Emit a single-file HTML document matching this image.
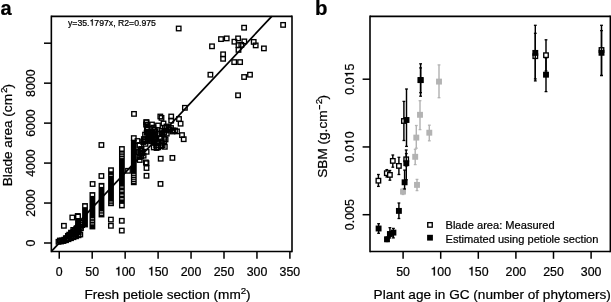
<!DOCTYPE html>
<html><head><meta charset="utf-8"><style>
html,body{margin:0;padding:0;background:#fff;}
svg{display:block;will-change:transform;}
text,.g1{stroke:#000;stroke-width:0.22px;stroke-linejoin:round;}
</style></head><body>
<svg width="611" height="302" viewBox="0 0 611 302">
<rect width="611" height="302" fill="#fff"/>
<text x="0.4" y="15.1" font-family="Liberation Sans, sans-serif" font-size="20" font-weight="bold">a</text>
<text x="315.1" y="15.0" font-family="Liberation Sans, sans-serif" font-size="20.4" font-weight="bold">b</text>
<g transform="translate(68.00,25.50)"><text x="0.00" y="0" font-family="Liberation Sans, sans-serif" font-size="8.7" >y=35. 797x, R2=0.975</text><path class="g1" transform="translate(21.52,0) scale(0.00870,-0.00870)" d="M266 0L366 0L366 709L292 709C275 632 231 589 108 574L108 502L266 502Z" style="stroke-width:25.3px"/></g>
<g fill="none" stroke="#000" stroke-width="1.35">
<rect x="176.45" y="26.25" width="4.50" height="4.50"/>
<rect x="241.85" y="25.45" width="4.50" height="4.50"/>
<rect x="280.85" y="22.65" width="4.50" height="4.50"/>
<rect x="218.75" y="36.85" width="4.50" height="4.50"/>
<rect x="224.45" y="36.15" width="4.50" height="4.50"/>
<rect x="235.85" y="36.15" width="4.50" height="4.50"/>
<rect x="232.15" y="39.45" width="4.50" height="4.50"/>
<rect x="242.05" y="39.15" width="4.50" height="4.50"/>
<rect x="236.25" y="42.85" width="4.50" height="4.50"/>
<rect x="239.05" y="42.65" width="4.50" height="4.50"/>
<rect x="236.25" y="47.65" width="4.50" height="4.50"/>
<rect x="251.45" y="39.65" width="4.50" height="4.50"/>
<rect x="253.45" y="43.15" width="4.50" height="4.50"/>
<rect x="261.65" y="46.15" width="4.50" height="4.50"/>
<rect x="209.75" y="44.05" width="4.50" height="4.50"/>
<rect x="220.85" y="52.05" width="4.50" height="4.50"/>
<rect x="220.85" y="56.55" width="4.50" height="4.50"/>
<rect x="231.95" y="59.85" width="4.50" height="4.50"/>
<rect x="237.85" y="59.85" width="4.50" height="4.50"/>
<rect x="208.15" y="72.45" width="4.50" height="4.50"/>
<rect x="241.85" y="74.75" width="4.50" height="4.50"/>
<rect x="247.75" y="72.45" width="4.50" height="4.50"/>
<rect x="235.80" y="93.05" width="4.50" height="4.50"/>
<rect x="182.65" y="105.55" width="4.50" height="4.50"/>
<rect x="131.75" y="111.65" width="4.50" height="4.50"/>
<rect x="158.05" y="114.25" width="4.50" height="4.50"/>
<rect x="159.25" y="115.65" width="4.50" height="4.50"/>
<rect x="168.95" y="114.25" width="4.50" height="4.50"/>
<rect x="168.95" y="118.35" width="4.50" height="4.50"/>
<rect x="176.75" y="116.75" width="4.50" height="4.50"/>
<rect x="178.35" y="121.45" width="4.50" height="4.50"/>
<rect x="144.35" y="120.05" width="4.50" height="4.50"/>
<rect x="174.75" y="129.15" width="4.50" height="4.50"/>
<rect x="179.75" y="132.85" width="4.50" height="4.50"/>
<rect x="181.45" y="136.95" width="4.50" height="4.50"/>
<rect x="162.55" y="144.55" width="4.50" height="4.50"/>
<rect x="158.45" y="156.45" width="4.50" height="4.50"/>
<rect x="170.15" y="155.65" width="4.50" height="4.50"/>
<rect x="144.25" y="160.95" width="4.50" height="4.50"/>
<rect x="144.25" y="165.75" width="4.50" height="4.50"/>
<rect x="144.25" y="173.55" width="4.50" height="4.50"/>
<rect x="158.25" y="181.65" width="4.50" height="4.50"/>
<rect x="137.45" y="157.75" width="4.50" height="4.50"/>
<rect x="125.75" y="168.55" width="4.50" height="4.50"/>
<rect x="131.55" y="135.85" width="4.50" height="4.50"/>
<rect x="99.15" y="142.75" width="4.50" height="4.50"/>
<rect x="99.15" y="173.75" width="4.50" height="4.50"/>
<rect x="90.35" y="181.75" width="4.50" height="4.50"/>
<rect x="61.65" y="223.55" width="4.50" height="4.50"/>
<rect x="70.05" y="215.25" width="4.50" height="4.50"/>
<rect x="75.45" y="213.75" width="4.50" height="4.50"/>
<rect x="108.65" y="217.35" width="4.50" height="4.50"/>
<rect x="108.65" y="223.55" width="4.50" height="4.50"/>
<rect x="119.55" y="218.55" width="4.50" height="4.50"/>
<rect x="119.55" y="228.35" width="4.50" height="4.50"/>
<rect x="143.65" y="160.15" width="4.50" height="4.50"/>
<rect x="56.25" y="239.55" width="4.50" height="4.50"/>
<rect x="58.75" y="239.25" width="4.50" height="4.50"/>
<rect x="61.25" y="238.75" width="4.50" height="4.50"/>
<rect x="63.75" y="237.95" width="4.50" height="4.50"/>
<rect x="66.25" y="236.95" width="4.50" height="4.50"/>
<rect x="68.75" y="235.95" width="4.50" height="4.50"/>
<rect x="71.25" y="234.95" width="4.50" height="4.50"/>
<rect x="73.75" y="234.05" width="4.50" height="4.50"/>
<rect x="76.25" y="233.05" width="4.50" height="4.50"/>
<rect x="78.05" y="232.25" width="4.50" height="4.50"/>
<rect x="143.95" y="119.95" width="4.50" height="4.50"/>
<rect x="144.35" y="149.55" width="4.50" height="4.50"/>
<rect x="163.35" y="137.15" width="4.50" height="4.50"/>
<rect x="167.25" y="127.25" width="4.50" height="4.50"/>
<rect x="170.75" y="128.25" width="4.50" height="4.50"/>
<rect x="136.25" y="149.75" width="4.50" height="4.50"/>
<rect x="137.25" y="154.75" width="4.50" height="4.50"/>
<rect x="149.75" y="122.25" width="4.50" height="4.50"/>
<rect x="155.75" y="123.25" width="4.50" height="4.50"/>
<rect x="161.25" y="121.25" width="4.50" height="4.50"/>
<rect x="137.25" y="142.75" width="4.50" height="4.50"/>
<rect x="139.25" y="146.75" width="4.50" height="4.50"/>
<rect x="135.25" y="138.75" width="4.50" height="4.50"/>
<rect x="164.25" y="124.25" width="4.50" height="4.50"/>
<rect x="168.75" y="125.75" width="4.50" height="4.50"/>
<rect x="172.75" y="128.25" width="4.50" height="4.50"/>
<rect x="166.25" y="125.25" width="4.50" height="4.50"/>
<rect x="170.25" y="129.25" width="4.50" height="4.50"/>
<rect x="80.03" y="220.64" width="4.50" height="4.50"/>
<rect x="78.15" y="222.09" width="4.50" height="4.50"/>
<rect x="79.92" y="222.87" width="4.50" height="4.50"/>
<rect x="76.05" y="224.35" width="4.50" height="4.50"/>
<rect x="78.39" y="224.53" width="4.50" height="4.50"/>
<rect x="74.27" y="226.19" width="4.50" height="4.50"/>
<rect x="76.08" y="226.80" width="4.50" height="4.50"/>
<rect x="78.69" y="225.93" width="4.50" height="4.50"/>
<rect x="71.00" y="227.68" width="4.50" height="4.50"/>
<rect x="72.88" y="228.82" width="4.50" height="4.50"/>
<rect x="75.19" y="228.49" width="4.50" height="4.50"/>
<rect x="76.36" y="228.09" width="4.50" height="4.50"/>
<rect x="68.76" y="230.38" width="4.50" height="4.50"/>
<rect x="71.50" y="230.09" width="4.50" height="4.50"/>
<rect x="73.37" y="230.74" width="4.50" height="4.50"/>
<rect x="75.30" y="229.99" width="4.50" height="4.50"/>
<rect x="76.31" y="229.82" width="4.50" height="4.50"/>
<rect x="66.95" y="232.41" width="4.50" height="4.50"/>
<rect x="69.62" y="231.93" width="4.50" height="4.50"/>
<rect x="70.83" y="232.59" width="4.50" height="4.50"/>
<rect x="73.12" y="231.65" width="4.50" height="4.50"/>
<rect x="74.30" y="231.63" width="4.50" height="4.50"/>
<rect x="65.64" y="233.60" width="4.50" height="4.50"/>
<rect x="66.85" y="233.70" width="4.50" height="4.50"/>
<rect x="68.74" y="234.05" width="4.50" height="4.50"/>
<rect x="70.66" y="233.85" width="4.50" height="4.50"/>
<rect x="63.62" y="235.92" width="4.50" height="4.50"/>
<rect x="65.04" y="235.87" width="4.50" height="4.50"/>
<rect x="57.62" y="238.28" width="4.50" height="4.50"/>
<rect x="59.79" y="238.20" width="4.50" height="4.50"/>
<rect x="61.98" y="237.46" width="4.50" height="4.50"/>
<rect x="149.02" y="138.30" width="4.50" height="4.50"/>
<rect x="152.63" y="133.12" width="4.50" height="4.50"/>
<rect x="142.78" y="132.40" width="4.50" height="4.50"/>
<rect x="153.81" y="136.67" width="4.50" height="4.50"/>
<rect x="155.97" y="139.18" width="4.50" height="4.50"/>
<rect x="137.97" y="148.51" width="4.50" height="4.50"/>
<rect x="145.08" y="125.78" width="4.50" height="4.50"/>
<rect x="161.97" y="130.30" width="4.50" height="4.50"/>
<rect x="141.35" y="153.42" width="4.50" height="4.50"/>
<rect x="154.32" y="145.76" width="4.50" height="4.50"/>
<rect x="157.95" y="136.14" width="4.50" height="4.50"/>
<rect x="138.98" y="154.09" width="4.50" height="4.50"/>
<rect x="139.33" y="151.22" width="4.50" height="4.50"/>
<rect x="138.80" y="151.45" width="4.50" height="4.50"/>
<rect x="150.73" y="133.12" width="4.50" height="4.50"/>
<rect x="145.00" y="125.77" width="4.50" height="4.50"/>
<rect x="152.98" y="129.60" width="4.50" height="4.50"/>
<rect x="146.36" y="131.93" width="4.50" height="4.50"/>
<rect x="160.14" y="131.40" width="4.50" height="4.50"/>
<rect x="152.15" y="127.48" width="4.50" height="4.50"/>
<rect x="159.33" y="140.54" width="4.50" height="4.50"/>
<rect x="142.59" y="137.87" width="4.50" height="4.50"/>
<rect x="161.97" y="136.38" width="4.50" height="4.50"/>
<rect x="148.86" y="138.98" width="4.50" height="4.50"/>
<rect x="158.52" y="143.51" width="4.50" height="4.50"/>
<rect x="149.21" y="133.41" width="4.50" height="4.50"/>
<rect x="138.93" y="147.18" width="4.50" height="4.50"/>
<rect x="144.62" y="126.96" width="4.50" height="4.50"/>
<rect x="139.35" y="150.69" width="4.50" height="4.50"/>
<rect x="145.43" y="129.73" width="4.50" height="4.50"/>
<rect x="145.78" y="137.33" width="4.50" height="4.50"/>
<rect x="141.60" y="136.85" width="4.50" height="4.50"/>
<rect x="146.28" y="133.73" width="4.50" height="4.50"/>
<rect x="151.37" y="138.85" width="4.50" height="4.50"/>
<rect x="142.94" y="138.92" width="4.50" height="4.50"/>
<rect x="146.12" y="129.40" width="4.50" height="4.50"/>
<rect x="154.79" y="139.77" width="4.50" height="4.50"/>
<rect x="148.75" y="132.66" width="4.50" height="4.50"/>
<rect x="159.05" y="143.76" width="4.50" height="4.50"/>
<rect x="138.10" y="150.49" width="4.50" height="4.50"/>
<rect x="141.04" y="139.58" width="4.50" height="4.50"/>
<rect x="143.83" y="122.34" width="4.50" height="4.50"/>
<rect x="139.98" y="150.50" width="4.50" height="4.50"/>
<rect x="153.95" y="143.22" width="4.50" height="4.50"/>
<rect x="156.04" y="145.07" width="4.50" height="4.50"/>
<rect x="152.24" y="139.98" width="4.50" height="4.50"/>
<rect x="159.44" y="130.08" width="4.50" height="4.50"/>
<rect x="159.21" y="128.43" width="4.50" height="4.50"/>
<rect x="151.96" y="134.64" width="4.50" height="4.50"/>
<rect x="151.50" y="145.18" width="4.50" height="4.50"/>
<rect x="160.37" y="142.84" width="4.50" height="4.50"/>
<rect x="159.64" y="131.90" width="4.50" height="4.50"/>
<rect x="157.56" y="131.43" width="4.50" height="4.50"/>
<rect x="152.66" y="137.51" width="4.50" height="4.50"/>
<rect x="151.11" y="125.40" width="4.50" height="4.50"/>
<rect x="164.27" y="128.22" width="4.50" height="4.50"/>
<rect x="150.59" y="130.65" width="4.50" height="4.50"/>
<rect x="143.24" y="141.60" width="4.50" height="4.50"/>
<rect x="141.12" y="139.59" width="4.50" height="4.50"/>
<rect x="162.01" y="139.06" width="4.50" height="4.50"/>
<rect x="150.63" y="131.82" width="4.50" height="4.50"/>
<rect x="162.59" y="125.45" width="4.50" height="4.50"/>
<rect x="164.52" y="131.39" width="4.50" height="4.50"/>
<rect x="148.21" y="135.00" width="4.50" height="4.50"/>
<rect x="147.86" y="136.23" width="4.50" height="4.50"/>
<rect x="145.22" y="122.94" width="4.50" height="4.50"/>
<rect x="139.88" y="150.46" width="4.50" height="4.50"/>
<rect x="144.43" y="130.55" width="4.50" height="4.50"/>
<rect x="152.49" y="127.89" width="4.50" height="4.50"/>
</g>
<rect x="75.08" y="213.57" width="5.85" height="21.35" fill="#000"/><rect x="76.42" y="215.00" width="3.15" height="3.00" fill="#fff"/><rect x="82.08" y="203.07" width="5.85" height="24.35" fill="#000"/><rect x="83.42" y="204.65" width="3.15" height="2.50" fill="#fff"/><rect x="89.48" y="192.07" width="5.85" height="37.35" fill="#000"/><rect x="90.83" y="193.70" width="3.15" height="2.20" fill="#fff"/><rect x="90.83" y="218.20" width="3.15" height="1.00" fill="#aaa"/><rect x="90.83" y="220.80" width="3.15" height="1.00" fill="#aaa"/><rect x="90.83" y="223.40" width="3.15" height="1.00" fill="#aaa"/><rect x="98.58" y="182.88" width="5.85" height="34.55" fill="#000"/><rect x="99.92" y="184.70" width="3.15" height="2.20" fill="#fff"/><rect x="99.92" y="211.30" width="3.15" height="1.00" fill="#aaa"/><rect x="99.92" y="213.55" width="3.15" height="1.50" fill="#aaa"/><rect x="108.08" y="167.27" width="5.85" height="38.95" fill="#000"/><rect x="109.42" y="168.75" width="3.15" height="2.50" fill="#fff"/><rect x="109.42" y="174.90" width="3.15" height="1.00" fill="#aaa"/><rect x="109.42" y="201.50" width="3.15" height="1.00" fill="#aaa"/><rect x="109.42" y="203.80" width="3.15" height="1.00" fill="#aaa"/><rect x="118.98" y="146.07" width="5.85" height="62.35" fill="#000"/><rect x="120.33" y="147.50" width="3.15" height="3.00" fill="#fff"/><rect x="120.33" y="152.50" width="3.15" height="1.00" fill="#aaa"/><rect x="120.33" y="154.80" width="3.15" height="1.00" fill="#aaa"/><rect x="120.33" y="157.10" width="3.15" height="1.00" fill="#aaa"/><rect x="120.33" y="186.50" width="3.15" height="1.20" fill="#aaa"/><rect x="120.33" y="190.15" width="3.15" height="1.50" fill="#aaa"/><rect x="120.33" y="194.45" width="3.15" height="1.50" fill="#aaa"/><rect x="120.33" y="198.05" width="3.15" height="1.50" fill="#aaa"/><rect x="120.33" y="203.90" width="3.15" height="3.00" fill="#fff"/><rect x="130.88" y="140.07" width="5.85" height="45.15" fill="#000"/><rect x="132.23" y="173.90" width="3.15" height="1.00" fill="#aaa"/><rect x="132.23" y="175.90" width="3.15" height="1.00" fill="#aaa"/><rect x="132.23" y="178.20" width="3.15" height="1.00" fill="#aaa"/><rect x="132.23" y="180.00" width="3.15" height="1.00" fill="#aaa"/><rect x="132.23" y="182.00" width="3.15" height="1.00" fill="#aaa"/>
<line x1="51.35" y1="251.43" x2="271.75" y2="16.35" stroke="#000" stroke-width="1.7"/>
<line x1="403.0" y1="188.5" x2="403.0" y2="194.5" stroke="#b3b3b3" stroke-width="1.45"/>
<line x1="401.6" y1="188.5" x2="404.4" y2="188.5" stroke="#b3b3b3" stroke-width="1.3"/>
<line x1="401.6" y1="194.5" x2="404.4" y2="194.5" stroke="#b3b3b3" stroke-width="1.3"/>
<line x1="417.0" y1="179.4" x2="417.0" y2="190.6" stroke="#b3b3b3" stroke-width="1.45"/>
<line x1="415.6" y1="179.4" x2="418.4" y2="179.4" stroke="#b3b3b3" stroke-width="1.3"/>
<line x1="415.6" y1="190.6" x2="418.4" y2="190.6" stroke="#b3b3b3" stroke-width="1.3"/>
<line x1="415.2" y1="149.3" x2="415.2" y2="164.6" stroke="#b3b3b3" stroke-width="1.45"/>
<line x1="413.8" y1="149.3" x2="416.59999999999997" y2="149.3" stroke="#b3b3b3" stroke-width="1.3"/>
<line x1="413.8" y1="164.6" x2="416.59999999999997" y2="164.6" stroke="#b3b3b3" stroke-width="1.3"/>
<line x1="416.3" y1="125.5" x2="416.3" y2="148.2" stroke="#b3b3b3" stroke-width="1.45"/>
<line x1="414.90000000000003" y1="125.5" x2="417.7" y2="125.5" stroke="#b3b3b3" stroke-width="1.3"/>
<line x1="414.90000000000003" y1="148.2" x2="417.7" y2="148.2" stroke="#b3b3b3" stroke-width="1.3"/>
<line x1="429.3" y1="125.2" x2="429.3" y2="140.8" stroke="#b3b3b3" stroke-width="1.45"/>
<line x1="427.90000000000003" y1="125.2" x2="430.7" y2="125.2" stroke="#b3b3b3" stroke-width="1.3"/>
<line x1="427.90000000000003" y1="140.8" x2="430.7" y2="140.8" stroke="#b3b3b3" stroke-width="1.3"/>
<line x1="420.0" y1="100.7" x2="420.0" y2="129.6" stroke="#b3b3b3" stroke-width="1.45"/>
<line x1="418.6" y1="100.7" x2="421.4" y2="100.7" stroke="#b3b3b3" stroke-width="1.3"/>
<line x1="418.6" y1="129.6" x2="421.4" y2="129.6" stroke="#b3b3b3" stroke-width="1.3"/>
<line x1="439.0" y1="64.9" x2="439.0" y2="97.7" stroke="#b3b3b3" stroke-width="1.45"/>
<line x1="437.6" y1="64.9" x2="440.4" y2="64.9" stroke="#b3b3b3" stroke-width="1.3"/>
<line x1="437.6" y1="97.7" x2="440.4" y2="97.7" stroke="#b3b3b3" stroke-width="1.3"/>
<rect x="400.05" y="188.65" width="5.9" height="5.9" fill="#b3b3b3"/>
<rect x="414.05" y="181.95" width="5.9" height="5.9" fill="#b3b3b3"/>
<rect x="412.25" y="153.85" width="5.9" height="5.9" fill="#b3b3b3"/>
<rect x="413.35" y="134.65" width="5.9" height="5.9" fill="#b3b3b3"/>
<rect x="426.35" y="129.75" width="5.9" height="5.9" fill="#b3b3b3"/>
<rect x="417.05" y="111.85" width="5.9" height="5.9" fill="#b3b3b3"/>
<rect x="436.05" y="78.65" width="5.9" height="5.9" fill="#b3b3b3"/>
<line x1="378.4" y1="174.5" x2="378.4" y2="186.4" stroke="#000" stroke-width="1.45"/>
<line x1="377.0" y1="174.5" x2="379.79999999999995" y2="174.5" stroke="#000" stroke-width="1.3"/>
<line x1="377.0" y1="186.4" x2="379.79999999999995" y2="186.4" stroke="#000" stroke-width="1.3"/>
<line x1="386.8" y1="169.6" x2="386.8" y2="177.0" stroke="#000" stroke-width="1.45"/>
<line x1="385.40000000000003" y1="169.6" x2="388.2" y2="169.6" stroke="#000" stroke-width="1.3"/>
<line x1="385.40000000000003" y1="177.0" x2="388.2" y2="177.0" stroke="#000" stroke-width="1.3"/>
<line x1="389.9" y1="170.5" x2="389.9" y2="180.2" stroke="#000" stroke-width="1.45"/>
<line x1="388.5" y1="170.5" x2="391.29999999999995" y2="170.5" stroke="#000" stroke-width="1.3"/>
<line x1="388.5" y1="180.2" x2="391.29999999999995" y2="180.2" stroke="#000" stroke-width="1.3"/>
<line x1="392.8" y1="155.0" x2="392.8" y2="167.2" stroke="#000" stroke-width="1.45"/>
<line x1="391.40000000000003" y1="155.0" x2="394.2" y2="155.0" stroke="#000" stroke-width="1.3"/>
<line x1="391.40000000000003" y1="167.2" x2="394.2" y2="167.2" stroke="#000" stroke-width="1.3"/>
<line x1="398.9" y1="157.3" x2="398.9" y2="174.5" stroke="#000" stroke-width="1.45"/>
<line x1="397.5" y1="157.3" x2="400.29999999999995" y2="157.3" stroke="#000" stroke-width="1.3"/>
<line x1="397.5" y1="174.5" x2="400.29999999999995" y2="174.5" stroke="#000" stroke-width="1.3"/>
<line x1="406.2" y1="150.0" x2="406.2" y2="166.0" stroke="#000" stroke-width="1.45"/>
<line x1="404.8" y1="150.0" x2="407.59999999999997" y2="150.0" stroke="#000" stroke-width="1.3"/>
<line x1="404.8" y1="166.0" x2="407.59999999999997" y2="166.0" stroke="#000" stroke-width="1.3"/>
<line x1="403.9" y1="101.4" x2="403.9" y2="140.5" stroke="#000" stroke-width="1.45"/>
<line x1="402.5" y1="101.4" x2="405.29999999999995" y2="101.4" stroke="#000" stroke-width="1.3"/>
<line x1="402.5" y1="140.5" x2="405.29999999999995" y2="140.5" stroke="#000" stroke-width="1.3"/>
<line x1="420.6" y1="67.9" x2="420.6" y2="92.7" stroke="#000" stroke-width="1.45"/>
<line x1="419.20000000000005" y1="67.9" x2="422.0" y2="67.9" stroke="#000" stroke-width="1.3"/>
<line x1="419.20000000000005" y1="92.7" x2="422.0" y2="92.7" stroke="#000" stroke-width="1.3"/>
<line x1="535.3" y1="33.3" x2="535.3" y2="78.9" stroke="#000" stroke-width="1.45"/>
<line x1="533.9" y1="33.3" x2="536.6999999999999" y2="33.3" stroke="#000" stroke-width="1.3"/>
<line x1="533.9" y1="78.9" x2="536.6999999999999" y2="78.9" stroke="#000" stroke-width="1.3"/>
<line x1="546.0" y1="39.8" x2="546.0" y2="71.0" stroke="#000" stroke-width="1.45"/>
<line x1="544.6" y1="39.8" x2="547.4" y2="39.8" stroke="#000" stroke-width="1.3"/>
<line x1="544.6" y1="71.0" x2="547.4" y2="71.0" stroke="#000" stroke-width="1.3"/>
<line x1="601.5" y1="30.6" x2="601.5" y2="75.5" stroke="#000" stroke-width="1.45"/>
<line x1="600.1" y1="30.6" x2="602.9" y2="30.6" stroke="#000" stroke-width="1.3"/>
<line x1="600.1" y1="75.5" x2="602.9" y2="75.5" stroke="#000" stroke-width="1.3"/>
<rect x="376.15" y="178.45" width="4.5" height="4.5" fill="#fff" stroke="#000" stroke-width="1.35"/>
<rect x="384.55" y="170.95" width="4.5" height="4.5" fill="#fff" stroke="#000" stroke-width="1.35"/>
<rect x="387.65" y="172.65" width="4.5" height="4.5" fill="#fff" stroke="#000" stroke-width="1.35"/>
<rect x="390.55" y="158.65" width="4.5" height="4.5" fill="#fff" stroke="#000" stroke-width="1.35"/>
<rect x="396.65" y="163.65" width="4.5" height="4.5" fill="#fff" stroke="#000" stroke-width="1.35"/>
<rect x="403.95" y="157.05" width="4.5" height="4.5" fill="#fff" stroke="#000" stroke-width="1.35"/>
<rect x="401.65" y="118.75" width="4.5" height="4.5" fill="#fff" stroke="#000" stroke-width="1.35"/>
<rect x="418.35" y="77.85" width="4.5" height="4.5" fill="#fff" stroke="#000" stroke-width="1.35"/>
<rect x="533.05" y="53.95" width="4.5" height="4.5" fill="#fff" stroke="#000" stroke-width="1.35"/>
<rect x="543.75" y="52.95" width="4.5" height="4.5" fill="#fff" stroke="#000" stroke-width="1.35"/>
<rect x="599.25" y="47.75" width="4.5" height="4.5" fill="#fff" stroke="#000" stroke-width="1.35"/>
<line x1="378.6" y1="223.7" x2="378.6" y2="233.3" stroke="#000" stroke-width="1.45"/>
<line x1="377.20000000000005" y1="223.7" x2="380.0" y2="223.7" stroke="#000" stroke-width="1.3"/>
<line x1="377.20000000000005" y1="233.3" x2="380.0" y2="233.3" stroke="#000" stroke-width="1.3"/>
<line x1="387.0" y1="237.0" x2="387.0" y2="241.5" stroke="#000" stroke-width="1.45"/>
<line x1="385.6" y1="237.0" x2="388.4" y2="237.0" stroke="#000" stroke-width="1.3"/>
<line x1="385.6" y1="241.5" x2="388.4" y2="241.5" stroke="#000" stroke-width="1.3"/>
<line x1="389.9" y1="227.7" x2="389.9" y2="238.0" stroke="#000" stroke-width="1.45"/>
<line x1="388.5" y1="227.7" x2="391.29999999999995" y2="227.7" stroke="#000" stroke-width="1.3"/>
<line x1="388.5" y1="238.0" x2="391.29999999999995" y2="238.0" stroke="#000" stroke-width="1.3"/>
<line x1="393.4" y1="228.4" x2="393.4" y2="237.9" stroke="#000" stroke-width="1.45"/>
<line x1="392.0" y1="228.4" x2="394.79999999999995" y2="228.4" stroke="#000" stroke-width="1.3"/>
<line x1="392.0" y1="237.9" x2="394.79999999999995" y2="237.9" stroke="#000" stroke-width="1.3"/>
<line x1="398.9" y1="203.0" x2="398.9" y2="218.5" stroke="#000" stroke-width="1.45"/>
<line x1="397.5" y1="203.0" x2="400.29999999999995" y2="203.0" stroke="#000" stroke-width="1.3"/>
<line x1="397.5" y1="218.5" x2="400.29999999999995" y2="218.5" stroke="#000" stroke-width="1.3"/>
<line x1="404.6" y1="170.1" x2="404.6" y2="189.0" stroke="#000" stroke-width="1.45"/>
<line x1="403.20000000000005" y1="170.1" x2="406.0" y2="170.1" stroke="#000" stroke-width="1.3"/>
<line x1="403.20000000000005" y1="189.0" x2="406.0" y2="189.0" stroke="#000" stroke-width="1.3"/>
<line x1="406.3" y1="153.6" x2="406.3" y2="179.7" stroke="#000" stroke-width="1.45"/>
<line x1="404.90000000000003" y1="153.6" x2="407.7" y2="153.6" stroke="#000" stroke-width="1.3"/>
<line x1="404.90000000000003" y1="179.7" x2="407.7" y2="179.7" stroke="#000" stroke-width="1.3"/>
<line x1="406.5" y1="89.0" x2="406.5" y2="146.4" stroke="#000" stroke-width="1.45"/>
<line x1="405.1" y1="89.0" x2="407.9" y2="89.0" stroke="#000" stroke-width="1.3"/>
<line x1="405.1" y1="146.4" x2="407.9" y2="146.4" stroke="#000" stroke-width="1.3"/>
<line x1="420.6" y1="63.8" x2="420.6" y2="96.2" stroke="#000" stroke-width="1.45"/>
<line x1="419.20000000000005" y1="63.8" x2="422.0" y2="63.8" stroke="#000" stroke-width="1.3"/>
<line x1="419.20000000000005" y1="96.2" x2="422.0" y2="96.2" stroke="#000" stroke-width="1.3"/>
<line x1="535.3" y1="25.3" x2="535.3" y2="80.9" stroke="#000" stroke-width="1.45"/>
<line x1="533.9" y1="25.3" x2="536.6999999999999" y2="25.3" stroke="#000" stroke-width="1.3"/>
<line x1="533.9" y1="80.9" x2="536.6999999999999" y2="80.9" stroke="#000" stroke-width="1.3"/>
<line x1="546.0" y1="58.0" x2="546.0" y2="91.6" stroke="#000" stroke-width="1.45"/>
<line x1="544.6" y1="58.0" x2="547.4" y2="58.0" stroke="#000" stroke-width="1.3"/>
<line x1="544.6" y1="91.6" x2="547.4" y2="91.6" stroke="#000" stroke-width="1.3"/>
<line x1="601.5" y1="25.3" x2="601.5" y2="75.5" stroke="#000" stroke-width="1.45"/>
<line x1="600.1" y1="25.3" x2="602.9" y2="25.3" stroke="#000" stroke-width="1.3"/>
<line x1="600.1" y1="75.5" x2="602.9" y2="75.5" stroke="#000" stroke-width="1.3"/>
<rect x="375.65" y="225.55" width="5.9" height="5.9" fill="#000"/>
<rect x="384.05" y="236.35" width="5.9" height="5.9" fill="#000"/>
<rect x="386.95" y="231.05" width="5.9" height="5.9" fill="#000"/>
<rect x="390.45" y="229.65" width="5.9" height="5.9" fill="#000"/>
<rect x="395.95" y="207.95" width="5.9" height="5.9" fill="#000"/>
<rect x="401.65" y="179.35" width="5.9" height="5.9" fill="#000"/>
<rect x="403.35" y="160.25" width="5.9" height="5.9" fill="#000"/>
<rect x="403.55" y="117.05" width="5.9" height="5.9" fill="#000"/>
<rect x="417.65" y="77.15" width="5.9" height="5.9" fill="#000"/>
<rect x="532.35" y="49.95" width="5.9" height="5.9" fill="#000"/>
<rect x="543.05" y="71.75" width="5.9" height="5.9" fill="#000"/>
<rect x="598.55" y="49.85" width="5.9" height="5.9" fill="#000"/>
<line x1="51.35" y1="15.55" x2="51.35" y2="252.25" stroke="#000" stroke-width="1.6"/>
<line x1="292.0" y1="15.55" x2="292.0" y2="252.25" stroke="#000" stroke-width="1.6"/>
<line x1="51.35" y1="16.35" x2="292.0" y2="16.35" stroke="#000" stroke-width="1.6"/>
<line x1="51.35" y1="251.45" x2="292.0" y2="251.45" stroke="#000" stroke-width="1.6"/>
<line x1="370.0" y1="15.55" x2="370.0" y2="252.25" stroke="#000" stroke-width="1.6"/>
<line x1="610.35" y1="15.55" x2="610.35" y2="252.25" stroke="#000" stroke-width="1.6"/>
<line x1="370.0" y1="16.35" x2="610.35" y2="16.35" stroke="#000" stroke-width="1.6"/>
<line x1="370.0" y1="251.45" x2="610.35" y2="251.45" stroke="#000" stroke-width="1.6"/>
<line x1="59.25" y1="251.45" x2="59.25" y2="258.8" stroke="#000" stroke-width="1.5"/>
<g transform="translate(59.25,275.50)"><text x="-3.43" y="0" font-family="Liberation Sans, sans-serif" font-size="12.35" >0</text></g>
<line x1="92.20" y1="251.45" x2="92.20" y2="258.8" stroke="#000" stroke-width="1.5"/>
<g transform="translate(92.20,275.50)"><text x="-6.87" y="0" font-family="Liberation Sans, sans-serif" font-size="12.35" >50</text></g>
<line x1="125.15" y1="251.45" x2="125.15" y2="258.8" stroke="#000" stroke-width="1.5"/>
<g transform="translate(125.15,275.50)"><text x="-10.30" y="0" font-family="Liberation Sans, sans-serif" font-size="12.35" > 00</text><path class="g1" transform="translate(-10.30,0) scale(0.01235,-0.01235)" d="M266 0L366 0L366 709L292 709C275 632 231 589 108 574L108 502L266 502Z" style="stroke-width:17.8px"/></g>
<line x1="158.10" y1="251.45" x2="158.10" y2="258.8" stroke="#000" stroke-width="1.5"/>
<g transform="translate(158.10,275.50)"><text x="-10.30" y="0" font-family="Liberation Sans, sans-serif" font-size="12.35" > 50</text><path class="g1" transform="translate(-10.30,0) scale(0.01235,-0.01235)" d="M266 0L366 0L366 709L292 709C275 632 231 589 108 574L108 502L266 502Z" style="stroke-width:17.8px"/></g>
<line x1="191.05" y1="251.45" x2="191.05" y2="258.8" stroke="#000" stroke-width="1.5"/>
<g transform="translate(191.05,275.50)"><text x="-10.30" y="0" font-family="Liberation Sans, sans-serif" font-size="12.35" >200</text></g>
<line x1="224.00" y1="251.45" x2="224.00" y2="258.8" stroke="#000" stroke-width="1.5"/>
<g transform="translate(224.00,275.50)"><text x="-10.30" y="0" font-family="Liberation Sans, sans-serif" font-size="12.35" >250</text></g>
<line x1="256.95" y1="251.45" x2="256.95" y2="258.8" stroke="#000" stroke-width="1.5"/>
<g transform="translate(256.95,275.50)"><text x="-10.30" y="0" font-family="Liberation Sans, sans-serif" font-size="12.35" >300</text></g>
<line x1="289.90" y1="251.45" x2="289.90" y2="258.8" stroke="#000" stroke-width="1.5"/>
<g transform="translate(289.90,275.50)"><text x="-10.30" y="0" font-family="Liberation Sans, sans-serif" font-size="12.35" >350</text></g>
<line x1="44" y1="243.00" x2="51.35" y2="243.00" stroke="#000" stroke-width="1.5"/>
<g transform="translate(35.20,243.00) rotate(-90)"><text x="-3.43" y="0" font-family="Liberation Sans, sans-serif" font-size="12.35" >0</text></g>
<line x1="44" y1="203.04" x2="51.35" y2="203.04" stroke="#000" stroke-width="1.5"/>
<g transform="translate(35.20,203.04) rotate(-90)"><text x="-13.74" y="0" font-family="Liberation Sans, sans-serif" font-size="12.35" >2000</text></g>
<line x1="44" y1="163.08" x2="51.35" y2="163.08" stroke="#000" stroke-width="1.5"/>
<g transform="translate(35.20,163.08) rotate(-90)"><text x="-13.74" y="0" font-family="Liberation Sans, sans-serif" font-size="12.35" >4000</text></g>
<line x1="44" y1="123.12" x2="51.35" y2="123.12" stroke="#000" stroke-width="1.5"/>
<g transform="translate(35.20,123.12) rotate(-90)"><text x="-13.74" y="0" font-family="Liberation Sans, sans-serif" font-size="12.35" >6000</text></g>
<line x1="44" y1="83.16" x2="51.35" y2="83.16" stroke="#000" stroke-width="1.5"/>
<g transform="translate(35.20,83.16) rotate(-90)"><text x="-13.74" y="0" font-family="Liberation Sans, sans-serif" font-size="12.35" >8000</text></g>
<line x1="44" y1="43.20" x2="51.35" y2="43.20" stroke="#000" stroke-width="1.5"/>
<line x1="403.10" y1="251.45" x2="403.10" y2="258.8" stroke="#000" stroke-width="1.5"/>
<g transform="translate(403.10,275.50)"><text x="-6.87" y="0" font-family="Liberation Sans, sans-serif" font-size="12.35" >50</text></g>
<line x1="440.70" y1="251.45" x2="440.70" y2="258.8" stroke="#000" stroke-width="1.5"/>
<g transform="translate(440.70,275.50)"><text x="-10.30" y="0" font-family="Liberation Sans, sans-serif" font-size="12.35" > 00</text><path class="g1" transform="translate(-10.30,0) scale(0.01235,-0.01235)" d="M266 0L366 0L366 709L292 709C275 632 231 589 108 574L108 502L266 502Z" style="stroke-width:17.8px"/></g>
<line x1="478.30" y1="251.45" x2="478.30" y2="258.8" stroke="#000" stroke-width="1.5"/>
<g transform="translate(478.30,275.50)"><text x="-10.30" y="0" font-family="Liberation Sans, sans-serif" font-size="12.35" > 50</text><path class="g1" transform="translate(-10.30,0) scale(0.01235,-0.01235)" d="M266 0L366 0L366 709L292 709C275 632 231 589 108 574L108 502L266 502Z" style="stroke-width:17.8px"/></g>
<line x1="515.90" y1="251.45" x2="515.90" y2="258.8" stroke="#000" stroke-width="1.5"/>
<g transform="translate(515.90,275.50)"><text x="-10.30" y="0" font-family="Liberation Sans, sans-serif" font-size="12.35" >200</text></g>
<line x1="553.50" y1="251.45" x2="553.50" y2="258.8" stroke="#000" stroke-width="1.5"/>
<g transform="translate(553.50,275.50)"><text x="-10.30" y="0" font-family="Liberation Sans, sans-serif" font-size="12.35" >250</text></g>
<line x1="591.10" y1="251.45" x2="591.10" y2="258.8" stroke="#000" stroke-width="1.5"/>
<g transform="translate(591.10,275.50)"><text x="-10.30" y="0" font-family="Liberation Sans, sans-serif" font-size="12.35" >300</text></g>
<line x1="362.6" y1="214.70" x2="370.0" y2="214.70" stroke="#000" stroke-width="1.5"/>
<g transform="translate(353.60,214.70) rotate(-90)"><text x="-15.45" y="0" font-family="Liberation Sans, sans-serif" font-size="12.35" >0.005</text></g>
<line x1="362.6" y1="146.95" x2="370.0" y2="146.95" stroke="#000" stroke-width="1.5"/>
<g transform="translate(353.60,146.95) rotate(-90)"><text x="-15.45" y="0" font-family="Liberation Sans, sans-serif" font-size="12.35" >0.0 0</text><path class="g1" transform="translate(1.72,0) scale(0.01235,-0.01235)" d="M266 0L366 0L366 709L292 709C275 632 231 589 108 574L108 502L266 502Z" style="stroke-width:17.8px"/></g>
<line x1="362.6" y1="79.20" x2="370.0" y2="79.20" stroke="#000" stroke-width="1.5"/>
<g transform="translate(353.60,79.20) rotate(-90)"><text x="-15.45" y="0" font-family="Liberation Sans, sans-serif" font-size="12.35" >0.0 5</text><path class="g1" transform="translate(1.72,0) scale(0.01235,-0.01235)" d="M266 0L366 0L366 709L292 709C275 632 231 589 108 574L108 502L266 502Z" style="stroke-width:17.8px"/></g>
<text x="84.4" y="298.6" font-family="Liberation Sans, sans-serif" font-size="13.6">Fresh petiole section (mm</text><text x="240.7" y="293.9" font-family="Liberation Sans, sans-serif" font-size="9.8">2</text><text x="246.1" y="298.6" font-family="Liberation Sans, sans-serif" font-size="13.6">)</text>
<text x="373.6" y="298.6" font-family="Liberation Sans, sans-serif" font-size="13.6">Plant age in GC (number of phytomers)</text>
<text transform="translate(12,186.2) rotate(-90)" font-family="Liberation Sans, sans-serif" font-size="13.6">Blade area (cm</text><text transform="translate(7,93.0) rotate(-90)" font-family="Liberation Sans, sans-serif" font-size="9.8">2</text><text transform="translate(12,88.4) rotate(-90)" font-family="Liberation Sans, sans-serif" font-size="13.6">)</text>
<text transform="translate(327,177.7) rotate(-90)" font-family="Liberation Sans, sans-serif" font-size="13.6">SBM (g.cm</text><line x1="319.6" y1="109.6" x2="319.6" y2="105.0" stroke="#000" stroke-width="1.1"/><text transform="translate(322,104.2) rotate(-90)" font-family="Liberation Sans, sans-serif" font-size="9.8">2</text><text transform="translate(327,99.4) rotate(-90)" font-family="Liberation Sans, sans-serif" font-size="13.6">)</text>
<rect x="427.75" y="222.65" width="4.5" height="4.5" fill="none" stroke="#000" stroke-width="1.35"/>
<rect x="427.1" y="234.8" width="5.8" height="5.8" fill="#000"/>
<text x="445.5" y="228.6" font-family="Liberation Sans, sans-serif" font-size="11.1">Blade area: Measured</text>
<text x="445.5" y="242.6" font-family="Liberation Sans, sans-serif" font-size="11.1">Estimated using petiole section</text>
</svg>
</body></html>
